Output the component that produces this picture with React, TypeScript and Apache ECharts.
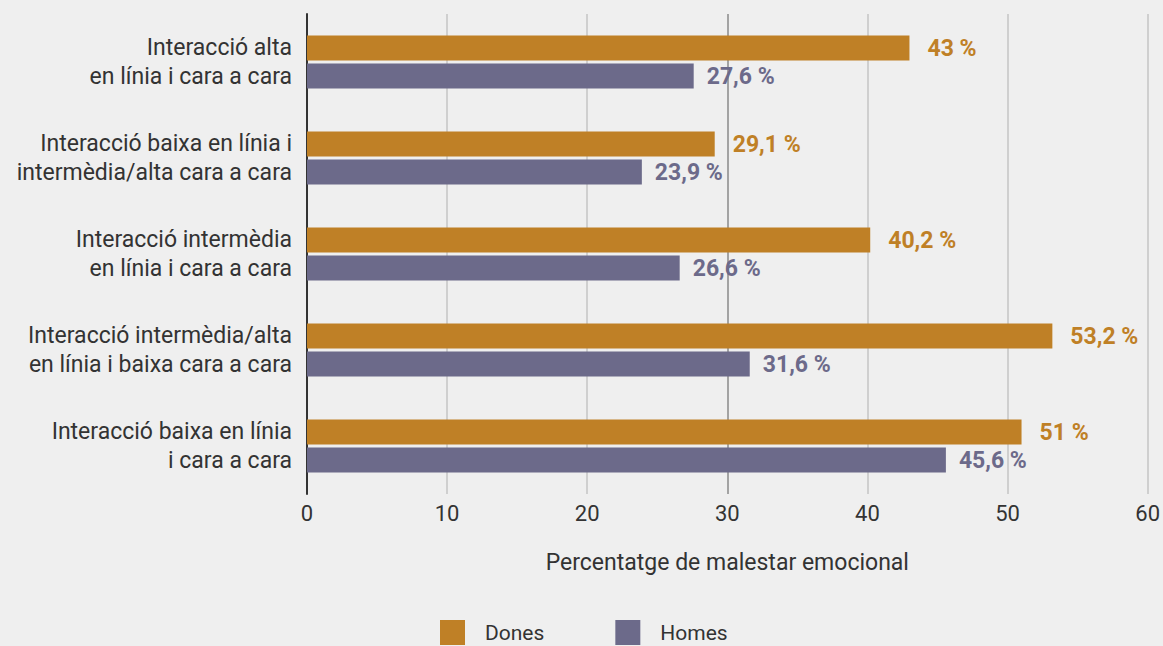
import React, { useEffect, useRef } from "react";
import * as echarts from "echarts";

const categories = [
  "Interacció alta\nen línia i cara a cara",
  "Interacció baixa en línia i\nintermèdia/alta cara a cara",
  "Interacció intermèdia\nen línia i cara a cara",
  "Interacció intermèdia/alta\nen línia i baixa cara a cara",
  "Interacció baixa en línia\ni cara a cara",
];
const dones = [43, 29.1, 40.2, 53.2, 51];
const homes = [27.6, 23.9, 26.6, 31.6, 45.6];
const xTicks = [0, 10, 20, 30, 40, 50, 60];

const FONT = "Roboto";
const fmt = (v: number) => String(v).replace(".", ",") + " %";

export default function App() {
  const ref = useRef<HTMLDivElement>(null);
  useEffect(() => {
    const chart = echarts.init(ref.current!, undefined, { renderer: "svg" });
    chart.setOption({
      animation: false,
      backgroundColor: "#efefef",
      textStyle: { fontFamily: FONT },
      grid: { left: 307, top: 14, width: 841, height: 480 },
      legend: {
        left: 435,
        top: 615,
        icon: "rect",
        itemWidth: 25,
        itemHeight: 25,
        itemGap: 71,
        textStyle: {
          fontFamily: FONT,
          fontSize: 21,
          lineHeight: 20,
          color: "#333",
          padding: [0, 0, 0, 15],
        },
        data: ["Dones", "Homes"],
      },
      xAxis: {
        type: "value",
        min: xTicks[0],
        max: xTicks[xTicks.length - 1],
        interval: 10,
        axisLine: { show: false },
        axisTick: { show: false },
        axisLabel: { fontSize: 22, color: "#333", margin: 8, fontFamily: FONT },
        splitLine: {
          lineStyle: {
            color: ["#333", "#c4c4c4", "#c4c4c4", "#8a8a8a", "#c4c4c4", "#c4c4c4", "#c4c4c4"],
            width: 1.5,
          },
        },
        name: "Percentatge de malestar emocional",
        nameLocation: "middle",
        nameGap: 57,
        nameTextStyle: { fontSize: 23, color: "#333", fontFamily: FONT },
      },
      yAxis: {
        type: "category",
        inverse: true,
        data: categories,
        axisLine: { lineStyle: { color: "#333", width: 2 } },
        axisTick: { show: false },
        axisLabel: {
          fontSize: 23,
          color: "#333",
          margin: 15,
          lineHeight: 29,
          fontFamily: FONT,
          align: "right",
        },
      },
      series: [
        {
          name: "Dones",
          type: "bar",
          data: dones,
          barWidth: 25,
          barGap: "12%",
          itemStyle: { color: "#bf8026" },
          label: {
            show: true,
            position: "right",
            distance: 18,
            formatter: (p: any) => fmt(p.value),
            color: "#bf8026",
            fontWeight: "bold",
            fontSize: 23,
            fontFamily: FONT,
          },
        },
        {
          name: "Homes",
          type: "bar",
          data: homes,
          barWidth: 25,
          barGap: "12%",
          itemStyle: { color: "#6c6a8a" },
          label: {
            show: true,
            position: "right",
            distance: 13,
            formatter: (p: any) => fmt(p.value),
            color: "#6c6a8a",
            fontWeight: "bold",
            fontSize: 23,
            fontFamily: FONT,
          },
        },
      ],
    });
    return () => chart.dispose();
  }, []);
  return (
    <div
      ref={ref}
      style={{ position: "fixed", left: 0, top: 0, width: 1163, height: 646 }}
    />
  );
}
